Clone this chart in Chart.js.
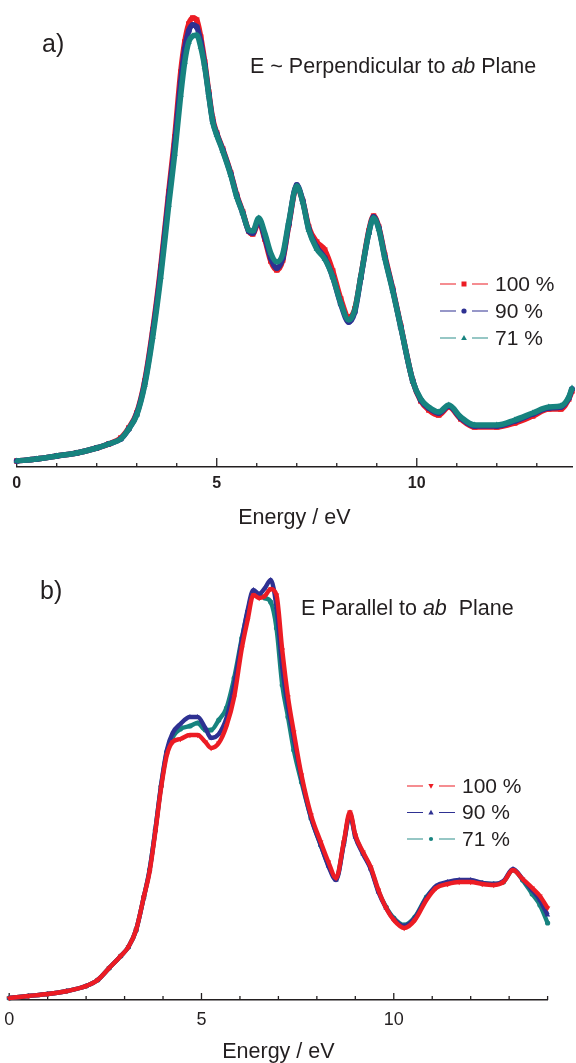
<!DOCTYPE html>
<html><head><meta charset="utf-8">
<script src="https://cdn.jsdelivr.net/npm/chart.js@4.4.1/dist/chart.umd.min.js"></script>
<style>
html,body{margin:0;padding:0;background:#fff;width:576px;height:1063px;overflow:hidden}
canvas{display:block}
</style></head><body>
<canvas id="topChart" width="576" height="540"></canvas>
<canvas id="bottomChart" width="576" height="523"></canvas>
<script>
// ---- data (intensity in arbitrary units) ----
const topEnergy = [0,0.5,1,1.5,2,2.3,2.6,2.8,3.0,3.2,3.4,3.6,3.8,3.95,4.1,4.2,4.3,4.4,4.5,4.6,4.7,4.8,4.9,5.0,5.15,5.35,5.5,5.65,5.8,5.9,6.05,6.2,6.35,6.5,6.65,6.8,7.0,7.15,7.3,7.5,7.7,7.9,8.1,8.3,8.45,8.6,8.8,8.92,9.05,9.2,9.4,9.6,9.9,10.1,10.3,10.55,10.8,11.1,11.45,12.0,12.45,12.9,13.3,13.6,13.8,13.88];
const top100 = [6,8,11,14,19,23,29,39,54,86,137,200,275,330,395,425,443,449,447,430,405,375,348,334,318,294,272,255,236,233,245,228,206,197,207,242,280,266,240,225,217,196,168,150,158,190,236,251,240,212,178,141,86,66,57,52,60,48,40,40,44,51,58,58,68,76];
const top90 = [6,8,11,14,19,23,28,38,53,84,134,196,270,323,385,418,436,442,440,425,402,373,346,333,317,293,271,254,236,234,247,230,209,199,209,243,282,266,238,220,209,190,163,145,155,189,234,250,239,210,177,140,86,67,59,54,61,49,41,41,46,53,59,60,69,78];
const top71 = [6,8,11,14,19,23,28,38,52,82,130,190,262,313,372,405,425,431,432,420,400,372,345,332,316,292,270,254,237,236,249,234,214,205,213,245,281,265,237,218,208,190,164,147,157,190,234,249,238,209,176,140,86,68,60,55,62,50,42,42,47,54,60,61,70,79];

const bottomEnergy = [0,0.5,1,1.5,2,2.3,2.6,2.9,3.1,3.3,3.5,3.65,3.8,3.95,4.1,4.25,4.45,4.7,4.9,5.1,5.25,5.45,5.65,5.85,6.05,6.2,6.35,6.5,6.65,6.8,6.95,7.1,7.25,7.4,7.6,7.85,8.1,8.3,8.5,8.7,8.86,9.0,9.2,9.4,9.6,9.8,10.0,10.27,10.55,10.85,11.1,11.4,11.7,12.0,12.3,12.6,12.85,13.1,13.35,13.6,13.8,14.0];
const bottom100 = [2,4,6,9,14,20,32,44,53,70,103,128,168,212,245,258,261,265,265,258,252,257,274,303,352,380,405,402,404,411,405,350,303,268,225,185,158,138,122,158,188,165,148,133,110,92,80,72,80,100,112,116,118,118,116,115,118,130,121,112,104,92];
const bottom90 = [2,4,6,9,14,20,32,44,53,70,103,130,170,215,250,267,276,283,283,272,262,266,282,315,360,390,410,406,412,420,393,333,293,262,222,182,155,134,120,156,185,163,146,131,108,92,81,74,82,102,114,118,120,120,117,116,119,131,121,110,100,85];
const bottom71 = [2,4,6,9,14,20,32,44,53,70,103,130,170,214,248,263,271,274,277,270,270,280,292,322,362,388,407,405,402,398,372,315,283,250,218,182,155,135,121,157,186,164,147,132,109,93,82,75,83,103,113,117,119,119,117,116,118,130,120,106,95,77];

const seriesLabels = ['100 %', '90 %', '71 %'];
const labeledTicks = [0, 5, 10];
const minorTicksTop = [0,1,2,3,4,5,6,7,8,9,10,11,12,13];
const minorTicksBottom = [0,1,2,3,4,5,6,7,8,9,10,11,12,13,14];

// ---- styles ----
const RED = '#ec1c24', BLUE = '#2e3192', TEAL = '#17837f', INK = '#231f20';
const FONT = "'Liberation Sans', Arial, Helvetica, sans-serif";

function pts(xs, ys) { return xs.map((x, i) => ({x: x, y: ys[i]})); }

function drawMarker(ctx, style, x, y, r, color, rot) {
  ctx.save();
  ctx.fillStyle = color;
  ctx.translate(x, y);
  if (rot) ctx.rotate(rot * Math.PI / 180);
  ctx.beginPath();
  if (style === 'rect') { ctx.rect(-r, -r, 2 * r, 2 * r); }
  else if (style === 'circle') { ctx.arc(0, 0, r, 0, Math.PI * 2); }
  else { ctx.moveTo(0, -r * 1.15); ctx.lineTo(r * 1.1, r * 0.8); ctx.lineTo(-r * 1.1, r * 0.8); ctx.closePath(); }
  ctx.fill();
  ctx.restore();
}

function annotPlugin(cfg) {
  return {
    id: 'annot',
    beforeDatasetsDraw(chart) {
      const s = chart.scales.x, ctx = chart.ctx, y = s.top;
      ctx.save();
      ctx.strokeStyle = INK; ctx.lineWidth = 1.3;
      cfg.minor.forEach(v => {
        const x = s.getPixelForValue(v);
        const len = v % 5 === 0 ? cfg.majorLen : cfg.minorLen;
        ctx.beginPath(); ctx.moveTo(x, y); ctx.lineTo(x, y - len); ctx.stroke();
      });
      ctx.restore();
    },
    afterDraw(chart) {
      const ctx = chart.ctx;
      ctx.save();
      ctx.fillStyle = INK;
      ctx.textBaseline = 'middle';
      ctx.textAlign = 'left';
      ctx.font = '25px ' + FONT;
      ctx.fillText(cfg.panel, cfg.panelX, cfg.panelY);
      let x = cfg.titleX;
      cfg.title.forEach(part => {
        ctx.font = (part.it ? 'italic ' : '') + '21.5px ' + FONT;
        ctx.fillText(part.t, x, cfg.titleY);
        x += ctx.measureText(part.t).width;
      });
      cfg.legend.forEach((it, i) => {
        const yy = cfg.legY + i * cfg.legDy;
        ctx.strokeStyle = it.lineColor; ctx.lineWidth = it.lw;
        ctx.beginPath();
        ctx.moveTo(cfg.legX, yy); ctx.lineTo(cfg.legX + 16, yy);
        ctx.moveTo(cfg.legX + 32, yy); ctx.lineTo(cfg.legX + 48, yy);
        ctx.stroke();
        drawMarker(ctx, it.style, cfg.legX + 24, yy, it.r, it.color, it.rot);
        ctx.fillStyle = INK;
        ctx.font = '21px ' + FONT;
        ctx.fillText(seriesLabels[i], cfg.legX + 55, yy + 1);
      });
      ctx.restore();
    }
  };
}

function ds(label, data, color, style, r, rot, bw, order) {
  return {
    label: label, data: data, borderColor: color, backgroundColor: color,
    borderWidth: bw, pointStyle: style, pointRadius: r, pointRotation: rot || 0,
    pointBorderWidth: 0, pointBackgroundColor: color,
    cubicInterpolationMode: 'monotone', clip: false, order: order
  };
}

function xScale(max, boldTicks, tickSize, tickPad, axisHeight, titlePadBottom) {
  return {
    type: 'linear', min: 0, max: max,
    afterBuildTicks: (scale) => { scale.ticks = labeledTicks.map(v => ({value: v})); },
    afterFit: (scale) => { scale.height = axisHeight; scale.paddingLeft = 0; scale.paddingRight = 0; },
    grid: {display: false, drawTicks: false},
    border: {display: true, color: INK, width: 1.4},
    ticks: {
      color: INK, padding: tickPad, maxRotation: 0, autoSkip: false,
      font: {family: FONT, size: tickSize, weight: boldTicks ? 'bold' : 'normal', lineHeight: 1.2}
    },
    title: {
      display: true, text: 'Energy / eV', color: INK,
      font: {family: FONT, size: 21.5, lineHeight: 1.0},
      padding: {top: 0, bottom: titlePadBottom}
    }
  };
}

new Chart(document.getElementById('topChart'), {
  type: 'line',
  data: {
    datasets: [
      ds(seriesLabels[0], pts(topEnergy, top100), RED, 'rect', 3.8, 0, 5.5, 3),
      ds(seriesLabels[1], pts(topEnergy, top90), BLUE, 'circle', 3.0, 0, 5.5, 2),
      ds(seriesLabels[2], pts(topEnergy, top71), TEAL, 'triangle', 3.6, 0, 5.5, 1)
    ]
  },
  options: {
    responsive: false, animation: false,
    layout: {padding: {left: 16.7, right: 0, top: 7, bottom: 0}},
    plugins: {legend: {display: false}, tooltip: {enabled: false}},
    scales: {
      x: xScale(13.88, true, 16, 7.4, 73, 11.25),
      y: {display: false, min: 0, max: 460}
    }
  },
  plugins: [annotPlugin({
    minor: minorTicksTop, majorLen: 9, minorLen: 4,
    panel: 'a)', panelX: 42, panelY: 45,
    title: [{t: 'E ~ Perpendicular to '}, {t: 'ab', it: true}, {t: ' Plane'}],
    titleX: 250, titleY: 67,
    legX: 440, legY: 284, legDy: 27,
    legend: [
      {color: RED, lineColor: 'rgba(236,28,36,0.5)', lw: 2, style: 'rect', r: 2.5},
      {color: BLUE, lineColor: BLUE, lw: 1.2, style: 'circle', r: 2.6},
      {color: TEAL, lineColor: 'rgba(23,131,127,0.6)', lw: 1.6, style: 'triangle', r: 2.6}
    ]
  })]
});

new Chart(document.getElementById('bottomChart'), {
  type: 'line',
  data: {
    datasets: [
      ds(seriesLabels[0], pts(bottomEnergy, bottom100), RED, 'triangle', 3.2, 180, 4.4, 1),
      ds(seriesLabels[1], pts(bottomEnergy, bottom90), BLUE, 'triangle', 3.0, 0, 4.4, 2),
      ds(seriesLabels[2], pts(bottomEnergy, bottom71), TEAL, 'circle', 2.6, 0, 4.4, 3)
    ]
  },
  options: {
    responsive: false, animation: false,
    layout: {padding: {left: 9.2, right: 28.4, top: 20, bottom: 0}},
    plugins: {legend: {display: false}, tooltip: {enabled: false}},
    scales: {
      x: xScale(14, false, 18, 9.2, 63, 0),
      y: {display: false, min: 0, max: 440}
    }
  },
  plugins: [annotPlugin({
    minor: minorTicksBottom, majorLen: 7, minorLen: 4,
    panel: 'b)', panelX: 40, panelY: 52,
    title: [{t: 'E Parallel to '}, {t: 'ab', it: true}, {t: '  Plane'}],
    titleX: 301, titleY: 69,
    legX: 407, legY: 246, legDy: 26.5,
    legend: [
      {color: RED, lineColor: 'rgba(236,28,36,0.5)', lw: 2, style: 'triangle', r: 2.4, rot: 180},
      {color: BLUE, lineColor: BLUE, lw: 1.2, style: 'triangle', r: 2.4},
      {color: TEAL, lineColor: 'rgba(23,131,127,0.6)', lw: 1.6, style: 'circle', r: 2.1}
    ]
  })]
});
</script>
</body></html>
